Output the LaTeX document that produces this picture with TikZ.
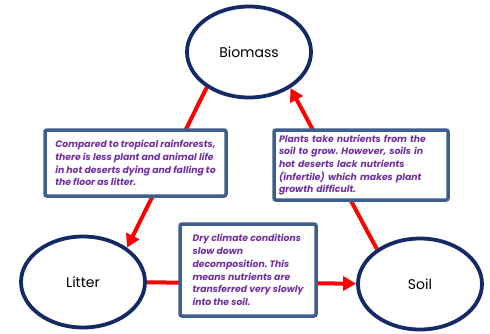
\documentclass[tikz,border=0pt]{standalone}
\usepackage{fontspec}
\setmainfont{Poppins}
\usepackage{tikz}
\usetikzlibrary{shapes.geometric, arrows.meta}
\usepackage{xcolor}
\definecolor{ringblue}{RGB}{20,42,102}
\definecolor{boxblue}{RGB}{62,94,142}
\definecolor{notepurple}{RGB}{112,48,160}
\frenchspacing

\begin{document}
\begin{tikzpicture}[x=1pt, y=-1pt, >={Triangle[length=13pt,width=14pt]},
    pool/.style={ellipse, draw=ringblue, line width=3.8pt, fill=white, minimum width=124pt, minimum height=91pt, font=\fontsize{14}{16}\selectfont},
    note/.style={rectangle, draw=boxblue, line width=3.5pt, fill=white, rounded corners=2pt, text=notepurple, align=left, inner xsep=0pt, font=\fontsize{9.3}{12.7}\selectfont\bfseries\itshape},
    flow/.style={->, red, line width=4pt}]
    \useasboundingbox (0,0) rectangle (490,333);

    \node[pool] (biomass) at (249,52) {Biomass};
    \node[pool] (litter) at (83,282) {Litter};
    \node[pool] (soil) at (420,284) {Soil};

    % Biomass to Litter (left side, arrow pointing down)
    \draw[flow] (biomass.220) -- (litter.38);

    % Soil to Biomass (right side, arrow pointing up)
    \draw[flow] (soil.141) -- (biomass.319);

    % Litter to Soil (bottom, arrow pointing right)
    \draw[flow] (litter) -- (soil);

    % notes sit on top of the arrows
    \node[note, minimum width=181pt, minimum height=66pt] (deadnote) at (135.5,163)
        {Compared to tropical rainforests,\\there is less plant and animal life\\in hot deserts dying and falling to\\the floor as litter.};
    \node[note, minimum width=174pt, minimum height=70pt, text width=164pt] (uptakenote) at (361,165)
        {Plants take nutrients from the\\soil to grow. However, soils in\\hot deserts lack nutrients\\(infertile) which makes plant\\growth difficult.};
    \node[note, minimum width=136pt, minimum height=92pt] (decaynote) at (248,270)
        {Dry climate conditions\\slow down\\decomposition. This\\means nutrients are\\transferred very slowly\\into the soil.};
\end{tikzpicture}
\end{document}
